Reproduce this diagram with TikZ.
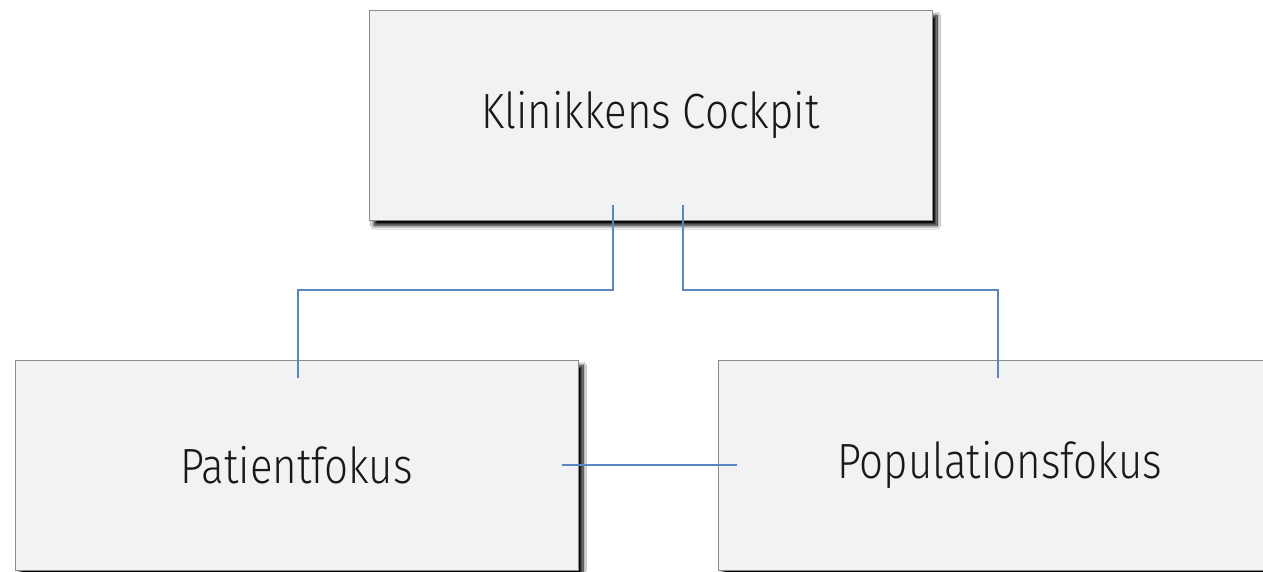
\documentclass[tikz,border=0pt]{standalone}
\usepackage{fontspec}
\IfFontExistsTF{Fira Sans Light}
  {\setmainfont{Fira Sans Light}[FakeStretch=0.85]}
  {\setmainfont{Fira Sans}[FakeStretch=0.85]}
\usetikzlibrary{calc,shadows.blur}
\definecolor{boxfill}{HTML}{F2F2F2}
\definecolor{boxline}{HTML}{8C8C8C}
\definecolor{connblue}{HTML}{5B87C0}
\tikzset{
  card/.style={draw=boxline, line width=0.8pt, fill=boxfill,
    minimum width=563pt, minimum height=210pt, inner sep=0pt,
    font=\fontsize{49.5}{56}\selectfont, text=black!90,
    blur shadow={shadow xshift=5pt, shadow yshift=-5.5pt,
      shadow blur steps=10, shadow blur radius=3.5pt,
      shadow opacity=100}},
  conn/.style={draw=connblue, line width=1.1pt}
}
\begin{document}
\begin{tikzpicture}[x=1pt,y=1pt]
  \useasboundingbox (0,0) rectangle (1263,-571);
  \clip (0,0) rectangle (1263,-571);
  \fill[white] (0,0) rectangle (1263,-571);

  \node[card] (top) at (650.5,-115) {Klinikkens Cockpit};
  \node[card] (pat) at (296.5,-465) {Patientfokus};
  \node[card] (pop) at (999.5,-465) {Populationsfokus};

  % branch points inside the top card and the two lower cards
  \coordinate (tl) at ($(top.south)+(-37.5,15)$);
  \coordinate (tr) at ($(top.south)+(32.5,15)$);
  \coordinate (bl) at ($(pat.north)+(1.5,-18)$);
  \coordinate (br) at ($(pop.north)+(-1.5,-18)$);
  \coordinate (mid) at (0,-290);

  \draw[conn] (tl) -- (tl |- mid) -| (bl);
  \draw[conn] (tr) -- (tr |- mid) -| (br);
  \draw[conn] ($(pat.east)+(-16,0)$) -- ($(pop.west)+(19,0)$);
\end{tikzpicture}
\end{document}
